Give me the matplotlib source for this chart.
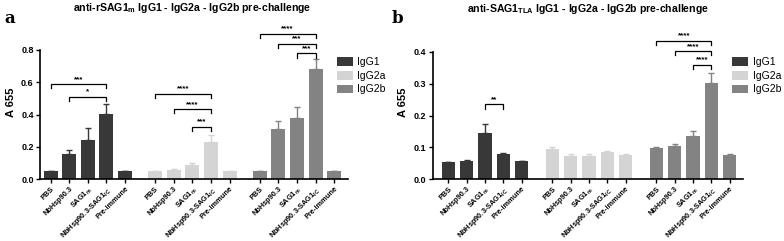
import matplotlib
matplotlib.use("Agg")
import matplotlib.pyplot as plt
from matplotlib.patches import Patch
import numpy as np

plt.rcParams['font.family'] = ['Liberation Sans', 'DejaVu Sans']

series = ["IgG1", "IgG2a", "IgG2b"]
colors = ["#383838", "#d4d4d4", "#838383"]
groups_lbl = ["PBS", "NbHsp90.3", r"SAG1$_{\mathregular{m}}$",
              r"NbHsp90.3-SAG1$_{\mathregular{IC}}$", "Pre-immune"]

# Panel a: anti-rSAG1m
a_vals = [[0.048, 0.158, 0.240, 0.402, 0.049],
          [0.050, 0.059, 0.088, 0.230, 0.048],
          [0.050, 0.312, 0.380, 0.680, 0.047]]
a_err = [[0.000, 0.025, 0.075, 0.063, 0.000],
         [0.000, 0.002, 0.012, 0.045, 0.000],
         [0.002, 0.048, 0.065, 0.065, 0.000]]
# brackets: (group, i_from, i_to, y, label)
a_sig = [(0, 0, 3, 0.59, "***"), (0, 1, 3, 0.51, "*"),
         (1, 0, 3, 0.53, "****"), (1, 1, 3, 0.435, "****"), (1, 2, 3, 0.325, "***"),
         (2, 0, 3, 0.90, "****"), (2, 1, 3, 0.84, "***"), (2, 2, 3, 0.78, "***")]

# Panel b: anti-SAG1TLA
b_vals = [[0.053, 0.057, 0.145, 0.078, 0.057],
          [0.095, 0.073, 0.073, 0.085, 0.077],
          [0.099, 0.105, 0.135, 0.303, 0.077]]
b_err = [[0.000, 0.002, 0.028, 0.005, 0.000],
         [0.005, 0.007, 0.007, 0.003, 0.002],
         [0.002, 0.005, 0.015, 0.030, 0.002]]
b_sig = [(0, 2, 3, 0.236, "**"),
         (2, 0, 3, 0.436, "****"), (2, 1, 3, 0.403, "****"), (2, 2, 3, 0.360, "****")]

fig = plt.figure(figsize=(7.84, 2.41), dpi=100)


def panel(rect, vals, errs, sig, ylim, ymax_spine, yticks, goff, width, xlim, tick_len):
    ax = fig.add_axes(rect)
    for g in range(3):
        x = np.arange(5) + g * goff
        ax.bar(x, vals[g], width=width, color=colors[g], zorder=2)
        ax.errorbar(x, vals[g], yerr=[np.zeros(5), errs[g]], fmt='none',
                    ecolor=colors[g], elinewidth=1.0, capsize=2.5, capthick=1.0, zorder=1)
    xs = np.concatenate([np.arange(5) + g * goff for g in range(3)])
    ax.set_xticks(xs)
    ax.set_xticklabels(groups_lbl * 3, rotation=45, ha='right', va='top',
                       rotation_mode='anchor', fontsize=5.3, fontweight='bold')
    ax.set_xlim(*xlim)
    ax.set_ylim(*ylim)
    ax.set_yticks(yticks)
    ax.set_yticklabels([f"{t:.1f}" for t in yticks], fontsize=6.5, fontweight='bold')
    ax.spines['top'].set_visible(False)
    ax.spines['right'].set_visible(False)
    ax.spines['left'].set_bounds(0, ymax_spine)
    ax.spines['left'].set_linewidth(1.2)
    ax.spines['bottom'].set_linewidth(1.2)
    ax.tick_params(axis='both', length=3, width=1.0, pad=1.5)
    for g, i0, i1, y, lab in sig:
        x0 = i0 + g * goff
        x1 = i1 + g * goff
        ax.plot([x0, x0, x1, x1], [y - tick_len, y, y, y - tick_len], color='black',
                lw=0.9, clip_on=False, solid_joinstyle='miter')
        ax.text((x0 + x1) / 2, y + tick_len * 0.25, lab, ha='center', va='bottom',
                fontsize=5.8, fontweight='bold')
    ax.set_ylabel("A 655", fontsize=8, fontweight='bold', labelpad=4)
    return ax


ax1 = panel([0.051, 0.257, 0.393, 0.636], a_vals, a_err, a_sig, (0, 0.95), 0.8,
            [0.0, 0.2, 0.4, 0.6, 0.8], 5.62, 0.75, (-0.57, 15.99), 0.028)
ax2 = panel([0.552, 0.257, 0.396, 0.636], b_vals, b_err, b_sig, (0, 0.4825), 0.4,
            [0.0, 0.1, 0.2, 0.3, 0.4], 5.68, 0.72, (-0.85, 16.1), 0.014)

handles = [Patch(facecolor=c, edgecolor='none') for c in colors]
for xa in (0.424, 0.928):
    fig.legend(handles, series, loc='upper left', bbox_to_anchor=(xa, 0.78),
               frameon=False, fontsize=7.5, handlelength=1.6, handleheight=0.9,
               handletextpad=0.4, labelspacing=0.35, borderaxespad=0)

fig.text(0.245, 0.965, r"anti-rSAG1$_{\mathregular{m}}$ IgG1 - IgG2a - IgG2b pre-challenge",
         ha='center', va='center', fontsize=7.6, fontweight='bold')
fig.text(0.75, 0.962, r"anti-SAG1$_{\mathregular{TLA}}$ IgG1 - IgG2a - IgG2b pre-challenge",
         ha='center', va='center', fontsize=7.6, fontweight='bold')
fig.text(0.006, 0.925, "a", fontsize=12, fontweight='bold', family='DejaVu Serif', va='center')
fig.text(0.500, 0.925, "b", fontsize=12, fontweight='bold', family='DejaVu Serif', va='center')

fig.savefig("out.png", dpi=100)
